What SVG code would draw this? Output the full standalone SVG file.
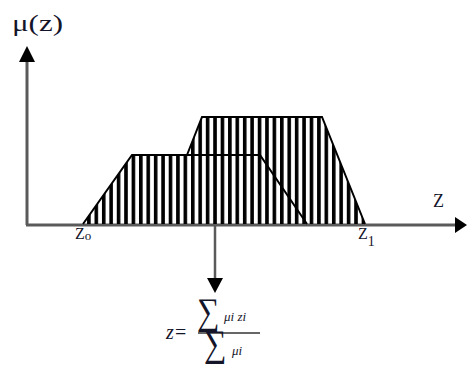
<svg xmlns="http://www.w3.org/2000/svg" width="467" height="365" viewBox="0 0 467 365">
  <style>
    text { font-family: 'Liberation Serif', 'Times New Roman', serif; fill: #15152a; }
    .ax { stroke: #5a5a5a; stroke-width: 3; fill: none; }
    .edge { stroke: #000; stroke-width: 2; fill: none; stroke-linejoin: miter; }
  </style>
  <defs>
    <pattern id="hatch" patternUnits="userSpaceOnUse" x="131.6" y="0" width="7.42" height="10">
      <rect x="0" y="0" width="3.6" height="10" fill="#000"/>
    </pattern>
  </defs>

  <g id="connectors">
    <line id="y-axis" class="ax" x1="27" y1="225" x2="27" y2="60"/>
    <path d="M19,62 L27,46 L35,62 Z" fill="#000"/>
    <line id="x-axis" class="ax" x1="26" y1="225" x2="456" y2="225"/>
    <path d="M455,217 L467,225 L455,233 Z" fill="#000"/>
    <line id="down-arrow" stroke="#5a5a5a" stroke-width="2.5" x1="215" y1="225" x2="215" y2="280"/>
    <path d="M207,278 L215,293 L223,278 Z" fill="#000"/>
  </g>

  <g id="fuzzy-sets">
    <polygon points="83,224 132,155 187,155 202,117 322,117 365,224" fill="url(#hatch)"/>
    <polyline class="edge" points="83,224 132,155 260,155 307,224"/>
    <polyline class="edge" points="187,155 202,117 322,117 365,224"/>
  </g>

  <g id="labels">
    <text x="12" y="31" font-size="24" textLength="51" lengthAdjust="spacingAndGlyphs">μ(z)</text>
    <text x="433" y="207" font-size="18">Z</text>
    <text x="75" y="239" font-size="16">Z<tspan font-size="13" dy="1">o</tspan></text>
    <text x="358" y="239" font-size="16">Z<tspan font-size="14" dy="7">1</tspan></text>
  </g>

  <g id="formula">
    <text x="166" y="339" font-size="20" font-style="italic">z</text>
    <text x="175" y="339" font-size="20">=</text>
    <text transform="translate(197,324) scale(1.05,1.25)" font-size="30">∑</text>
    <text x="224" y="321" font-size="13" font-style="italic">μi zi</text>
    <line x1="198" y1="333" x2="260" y2="333" stroke="#333" stroke-width="1.5"/>
    <text transform="translate(204,356) scale(1.05,1.25)" font-size="30">∑</text>
    <text x="232" y="355" font-size="13" font-style="italic">μi</text>
  </g>
</svg>
